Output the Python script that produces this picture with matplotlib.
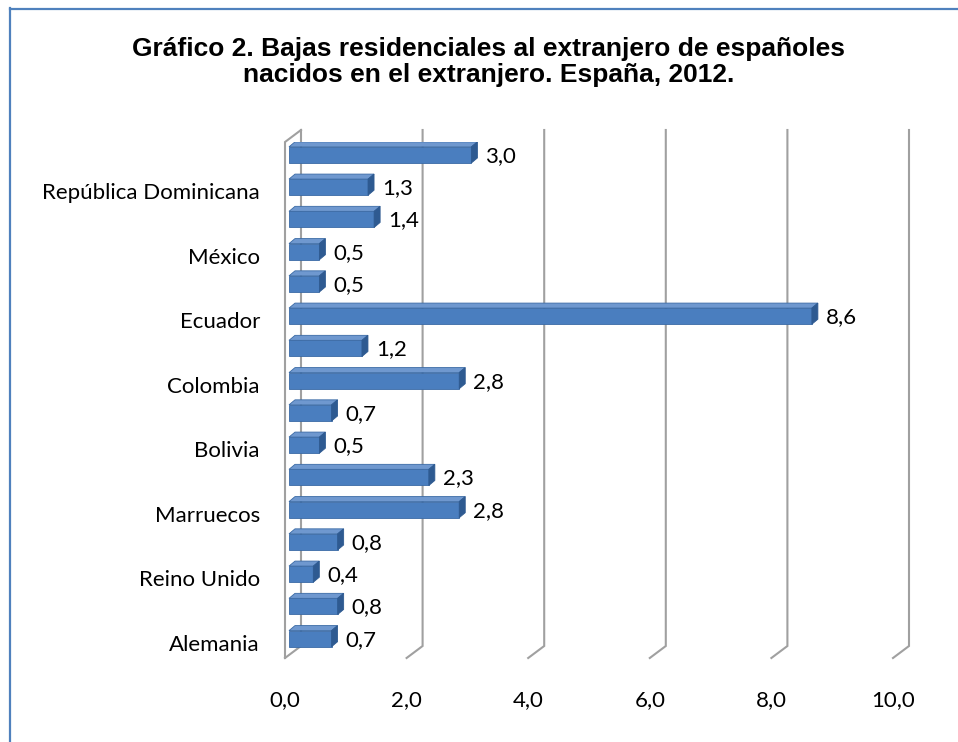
import matplotlib
matplotlib.use("Agg")
import matplotlib.pyplot as plt
from matplotlib.patches import Polygon
from matplotlib.lines import Line2D
from matplotlib.transforms import ScaledTranslation

# ---- data (bottom to top) ----
categories = ["Alemania", "", "Reino Unido", "", "Marruecos", "", "Bolivia", "",
              "Colombia", "", "Ecuador", "", "México", "", "República Dominicana", ""]
values = [0.7, 0.8, 0.4, 0.8, 2.8, 2.3, 0.5, 0.7, 2.8, 1.2, 8.6, 0.5, 0.5, 1.4, 1.3, 3.0]
xticks = [0, 2, 4, 6, 8, 10]
xtick_labels = ["0,0", "2,0", "4,0", "6,0", "8,0", "10,0"]
title = "Gráfico 2. Bajas residenciales al extranjero de españoles\nnacidos en el extranjero. España, 2012."

W, H, DPI = 958, 742, 100
fig = plt.figure(figsize=(W / DPI, H / DPI), dpi=DPI)
fig.patch.set_facecolor("white")

# axes placement (front plane)
x0px, x1px = 285, 893
ytop, ybot = 142, 658
ax = fig.add_axes([x0px / W, 1 - ybot / H, (x1px - x0px) / W, (ybot - ytop) / H])
ax.set_xlim(0, 10)
ax.set_ylim(-0.6, 15.4)
for s in ax.spines.values():
    s.set_visible(False)
ax.set_facecolor("none")

# pixel -> data conversions for depth
pxx = (x1px - x0px) / 10.0
pxy = (ybot - ytop) / 16.0
floor_dx, floor_dy = 16 / pxx, 12 / pxy
bar_dx, bar_dy = 6 / pxx, 5 / pxy
bar_shift_x = 4 / pxx

grid_c = "#A0A0A0"
glw = 1.5
y_lo, y_hi = ax.get_ylim()
# back-plane gridlines with floor diagonals
for t in xticks:
    ax.add_line(Line2D([t, t + floor_dx, t + floor_dx], [y_lo, y_lo + floor_dy, y_hi + floor_dy],
                       color=grid_c, lw=glw, clip_on=False, zorder=1, solid_joinstyle="miter"))
# left wall front edge
ax.add_line(Line2D([0, 0, floor_dx], [y_lo, y_hi, y_hi + floor_dy],
                   color=grid_c, lw=glw, clip_on=False, zorder=1, solid_joinstyle="miter"))

# bars with faux 3D
front_c, top_c, side_c, edge_c = "#4A7EBF", "#6F98CF", "#2E5A91", "#3A6AA5"
h = 0.5
fs = 16
for i, v in enumerate(values):
    ax.barh(i, v, left=bar_shift_x, height=h, color=front_c, edgecolor=edge_c, lw=0.6, zorder=3)
    xa, xb = bar_shift_x, bar_shift_x + v
    top = Polygon([(xa, i + h / 2), (xb, i + h / 2), (xb + bar_dx, i + h / 2 + bar_dy),
                   (xa + bar_dx, i + h / 2 + bar_dy)], closed=True,
                  facecolor=top_c, edgecolor=edge_c, lw=0.6, zorder=3)
    side = Polygon([(xb, i - h / 2), (xb, i + h / 2), (xb + bar_dx, i + h / 2 + bar_dy),
                    (xb + bar_dx, i - h / 2 + bar_dy)], closed=True,
                   facecolor=side_c, edgecolor=side_c, lw=0.6, zorder=3)
    ax.add_patch(top)
    ax.add_patch(side)
    ax.annotate(f"{v:.1f}".replace(".", ","), xy=(xb, i), xytext=(14, -1),
                textcoords="offset pixels", ha="left", va="center",
                fontsize=fs, family="Lato", color="black", zorder=4)

# ticks
ax.set_yticks(range(len(categories)))
ax.set_yticklabels(categories, fontsize=fs, family="Lato")
ax.set_xticks(xticks)
ax.set_xticklabels(xtick_labels, fontsize=fs, family="Lato")
ax.tick_params(axis="both", length=0)
ax.tick_params(axis="y", pad=18)
ax.tick_params(axis="x", pad=23)
for lab in ax.get_yticklabels():
    lab.set_transform(lab.get_transform() + ScaledTranslation(0, -4 / DPI, fig.dpi_scale_trans))

# title
fig.text(489 / W, 1 - 62 / H, title, ha="center", va="center", fontsize=19,
         fontweight="bold", family="Liberation Sans", linespacing=1.15)

# frame (left and top edges visible)
frame_c = "#4F81BD"
fig.add_artist(Line2D([9.5 / W, 9.5 / W], [0, 1 - 8 / H], transform=fig.transFigure,
                      color=frame_c, lw=1.6))
fig.add_artist(Line2D([9.5 / W, 1], [1 - 8.5 / H, 1 - 8.5 / H], transform=fig.transFigure,
                      color=frame_c, lw=1.6))

fig.savefig("out.png", dpi=DPI, facecolor="white")
